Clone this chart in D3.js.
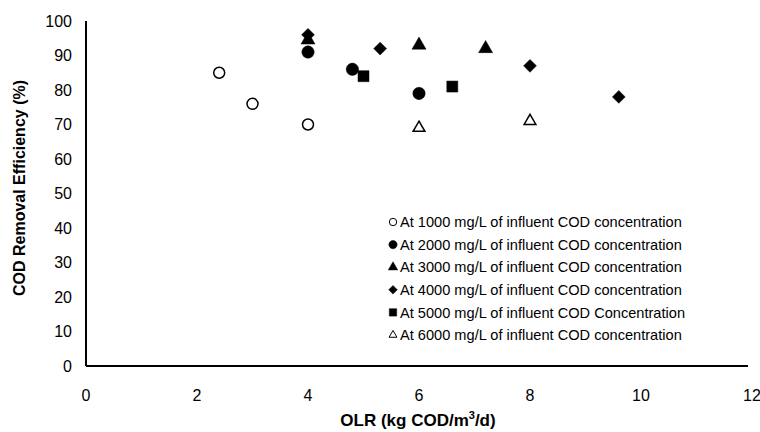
<!DOCTYPE html>
<html>
<head>
<meta charset="utf-8">
<script src="https://cdn.jsdelivr.net/npm/d3@7"></script>
<style>
  body { margin: 0; background: #fff; }
  text { font-family: Arial, "Liberation Sans", sans-serif; fill: #000; }
</style>
</head>
<body>
<svg width="760" height="432"></svg>
<script>
var svg = d3.select("svg");

// series values (OLR, removal %)
var s1000 = [[2.4, 85], [3, 76], [4, 70]];
var s2000 = [[4, 91], [4.8, 86], [6, 79]];
var s3000 = [[4, 94.5], [6, 93], [7.2, 92]];
var s4000 = [[4, 96], [5.3, 92], [8, 87], [9.6, 78]];
var s5000 = [[5, 84], [6.6, 81]];
var s6000 = [[6, 69], [8, 71]];

var xTicks = [0, 2, 4, 6, 8, 10, 12];
var yTicks = [0, 10, 20, 30, 40, 50, 60, 70, 80, 90, 100];

var series = [
	{ name: "At 1000 mg/L of influent COD concentration", data: s1000, shape: d3.symbolCircle, size: 95, fill: "#fff" },
	{ name: "At 2000 mg/L of influent COD concentration", data: s2000, shape: d3.symbolCircle, size: 120, fill: "#000" },
	{ name: "At 3000 mg/L of influent COD concentration", data: s3000, shape: d3.symbolTriangle, size: 85, fill: "#000" },
	{ name: "At 4000 mg/L of influent COD concentration", data: s4000, shape: d3.symbolDiamond2 || d3.symbolDiamond, size: 105, fill: "#000" },
	{ name: "At 5000 mg/L of influent COD Concentration", data: s5000, shape: d3.symbolSquare, size: 121, fill: "#000" },
	{ name: "At 6000 mg/L of influent COD concentration", data: s6000, shape: d3.symbolTriangle, size: 60, fill: "#fff" }
];

var x = d3.scaleLinear().domain([0, 12]).range([86, 752]);
var y = d3.scaleLinear().domain([0, 100]).range([366, 21]);

// axes
svg.append("line")
	.attr("x1", x(0)).attr("x2", x(0))
	.attr("y1", y(100)).attr("y2", y(0))
	.attr("stroke", "#000").attr("stroke-width", 2);
svg.append("line")
	.attr("x1", x(0)).attr("x2", x(12) - 4)
	.attr("y1", y(0)).attr("y2", y(0))
	.attr("stroke", "#000").attr("stroke-width", 2);

svg.append("g")
	.selectAll("text")
	.data(yTicks)
	.enter().append("text")
	.attr("x", 72)
	.attr("y", d => y(d))
	.attr("dy", "0.35em")
	.attr("text-anchor", "end")
	.attr("font-size", 16)
	.text(d => d);

svg.append("g")
	.selectAll("text")
	.data(xTicks)
	.enter().append("text")
	.attr("x", d => x(d))
	.attr("y", 395)
	.attr("dy", "0.35em")
	.attr("text-anchor", "middle")
	.attr("font-size", 16)
	.text(d => d);

// titles
var xt = svg.append("text")
	.attr("x", 418).attr("y", 426)
	.attr("text-anchor", "middle")
	.attr("font-size", 17).attr("font-weight", "bold");
xt.append("tspan").text("OLR (kg COD/m");
xt.append("tspan").attr("font-size", 11).attr("dy", -7).text("3");
xt.append("tspan").attr("dy", 7).text("/d)");

svg.append("text")
	.attr("transform", "translate(25,188) rotate(-90)")
	.attr("text-anchor", "middle")
	.attr("font-size", 16).attr("font-weight", "bold")
	.text("COD Removal Efficiency (%)");

// points
var sym = d3.symbol();
series.forEach(s => {
	svg.append("g")
		.selectAll("path")
		.data(s.data)
		.enter().append("path")
		.attr("transform", d => "translate(" + x(d[0]) + "," + y(d[1]) + ")")
		.attr("d", sym.type(s.shape).size(s.size)())
		.attr("fill", s.fill)
		.attr("stroke", "#000")
		.attr("stroke-width", s.fill == "#fff" ? 1.5 : 0.5);
});

// legend
var legend = svg.append("g")
	.selectAll("g")
	.data(series)
	.enter().append("g")
	.attr("transform", (d, i) => "translate(393," + (222 + i * 22.6) + ")");

legend.append("path")
	.attr("d", d => d3.symbol().type(d.shape).size(d.size * 0.45)())
	.attr("fill", d => d.fill)
	.attr("stroke", "#000")
	.attr("stroke-width", d => d.fill == "#fff" ? 1 : 0.5);

legend.append("text")
	.attr("x", 7)
	.attr("dy", "0.35em")
	.attr("font-size", 14.6)
	.text(d => d.name);
</script>
</body>
</html>
